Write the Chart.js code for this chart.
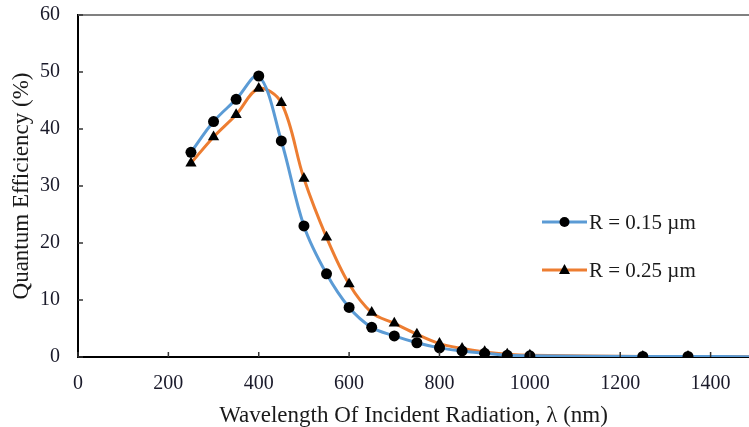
<!DOCTYPE html>
<html>
<head>
<meta charset="utf-8">
<script src="https://cdn.jsdelivr.net/npm/chart.js@4.4.1/dist/chart.umd.min.js"></script>
<style>
  html, body { margin: 0; padding: 0; background: #fff; }
  #wrap { width: 749px; height: 427px; position: relative; }
</style>
</head>
<body>
<div id="wrap"><canvas id="chart"></canvas></div>
<script>
const wavelengths = [250, 300, 350, 400, 450, 500, 550, 600, 650, 700, 750, 800, 850, 900, 950, 1000, 1250, 1350, 1500];
const qeR015 = [35.9, 41.3, 45.2, 49.3, 37.9, 23.0, 14.6, 8.7, 5.2, 3.7, 2.5, 1.6, 1.06, 0.65, 0.3, 0.2, 0.1, 0.1, 0.05];
const qeR025 = [34.0, 38.6, 42.5, 47.1, 44.6, 31.3, 21.0, 12.8, 7.8, 5.9, 4.0, 2.35, 1.5, 0.9, 0.5, 0.3, 0.1, 0.1, 0.05];
const seriesLabels = ["R = 0.15 \u00b5m", "R = 0.25 \u00b5m"];
const xTicks = [0, 200, 400, 600, 800, 1000, 1200, 1400];
const yTicks = [0, 10, 20, 30, 40, 50, 60];

const FONT = "'Liberation Serif', 'Times New Roman', serif";
const BLUE = "#5B9BD5";
const ORANGE = "#ED7D31";

function toPoints(ys) {
  return wavelengths.map((x, i) => ({ x: x, y: ys[i] }));
}

// markers only where measured (not at the trailing line end)
const circleRadius = ctx => (ctx.raw && ctx.raw.x > 1400) ? 0 : 5.5;
const triRadius = ctx => (ctx.raw && ctx.raw.x > 1400) ? 0 : 6.5;

function noEdgePadding(scale) {
  scale.paddingTop = 0;
  scale.paddingBottom = 0;
  scale.paddingLeft = 0;
  scale.paddingRight = 0;
}

const decorations = {
  id: "decorations",
  afterDraw(chart) {
    const { ctx, chartArea, scales } = chart;
    ctx.save();
    // top frame line
    ctx.strokeStyle = "#808080";
    ctx.lineWidth = 2;
    ctx.beginPath();
    ctx.moveTo(chartArea.left, chartArea.top);
    ctx.lineTo(chartArea.right, chartArea.top);
    ctx.stroke();

    // inward tick marks
    ctx.strokeStyle = "#333";
    ctx.lineWidth = 1.5;
    ctx.beginPath();
    xTicks.forEach(v => {
      const px = scales.x.getPixelForValue(v);
      ctx.moveTo(px, chartArea.bottom);
      ctx.lineTo(px, chartArea.bottom - 5);
    });
    yTicks.forEach(v => {
      const py = scales.y.getPixelForValue(v);
      ctx.moveTo(chartArea.left, py);
      ctx.lineTo(chartArea.left + 5, py);
    });
    ctx.stroke();

    // legend inside the plot
    const items = [
      { label: seriesLabels[0], color: BLUE, marker: "circle" },
      { label: seriesLabels[1], color: ORANGE, marker: "triangle" }
    ];
    const lx = 542, lw = 45;
    items.forEach((it, i) => {
      const y = 222 + i * 48;
      ctx.strokeStyle = it.color;
      ctx.lineWidth = 3;
      ctx.beginPath();
      ctx.moveTo(lx, y);
      ctx.lineTo(lx + lw, y);
      ctx.stroke();
      ctx.fillStyle = "#000";
      ctx.beginPath();
      if (it.marker === "circle") {
        ctx.arc(lx + lw / 2, y, 5, 0, Math.PI * 2);
      } else {
        ctx.moveTo(lx + lw / 2, y - 6);
        ctx.lineTo(lx + lw / 2 + 5.5, y + 4);
        ctx.lineTo(lx + lw / 2 - 5.5, y + 4);
        ctx.closePath();
      }
      ctx.fill();
      ctx.fillStyle = "#1a1a1a";
      ctx.font = "21px " + FONT;
      ctx.textBaseline = "middle";
      ctx.textAlign = "left";
      ctx.fillText(it.label, lx + lw + 2, y + 1);
    });
    ctx.restore();
  }
};

new Chart(document.getElementById("chart"), {
  type: "line",
  data: {
    datasets: [
      {
        label: seriesLabels[0],
        data: toPoints(qeR015),
        borderColor: BLUE,
        borderWidth: 3,
        pointStyle: "circle",
        pointRadius: circleRadius,
        pointBackgroundColor: "#000",
        pointBorderColor: "#000",
        pointBorderWidth: 0,
        tension: 0.35,
        fill: false
      },
      {
        label: seriesLabels[1],
        data: toPoints(qeR025),
        borderColor: ORANGE,
        borderWidth: 3,
        pointStyle: "triangle",
        pointRadius: triRadius,
        pointBackgroundColor: "#000",
        pointBorderColor: "#000",
        pointBorderWidth: 0,
        tension: 0.35,
        fill: false
      }
    ]
  },
  options: {
    responsive: true,
    maintainAspectRatio: false,
    animation: false,
    layout: { autoPadding: false, padding: { top: 15, right: 0, left: 0, bottom: 0 } },
    plugins: {
      legend: { display: false },
      tooltip: { enabled: false }
    },
    scales: {
      x: {
        type: "linear",
        min: 0,
        max: 1485,
        afterBuildTicks: scale => {
          scale.ticks = xTicks.map(v => ({ value: v }));
        },
        afterFit: scale => { scale.height = 70; noEdgePadding(scale); },
        grid: { drawOnChartArea: false, drawTicks: false },
        border: { color: "#000", width: 2 },
        ticks: {
          color: "#1a1a2a",
          padding: 15,
          maxRotation: 0,
          callback: v => String(v),
          font: { family: FONT, size: 20 }
        },
        title: {
          display: true,
          text: "Wavelength Of Incident Radiation, \u03bb (nm)",
          color: "#1a1a1a",
          font: { family: FONT, size: 23, lineHeight: 1 },
          padding: { top: 4, bottom: 0 }
        }
      },
      y: {
        min: 0,
        max: 60,
        afterBuildTicks: scale => {
          scale.ticks = yTicks.map(v => ({ value: v }));
        },
        afterFit: scale => { scale.width = 78; noEdgePadding(scale); },
        grid: { drawOnChartArea: false, drawTicks: false },
        border: { color: "#000", width: 2 },
        ticks: {
          color: "#1a1a2a",
          padding: 18,
          callback: v => String(v),
          font: { family: FONT, size: 20 }
        },
        title: {
          display: true,
          text: "Quantum Efficiency (%)",
          color: "#1a1a1a",
          font: { family: FONT, size: 23, lineHeight: 1 },
          padding: { top: 10, bottom: 0 }
        }
      }
    }
  },
  plugins: [decorations]
});
</script>
</body>
</html>
